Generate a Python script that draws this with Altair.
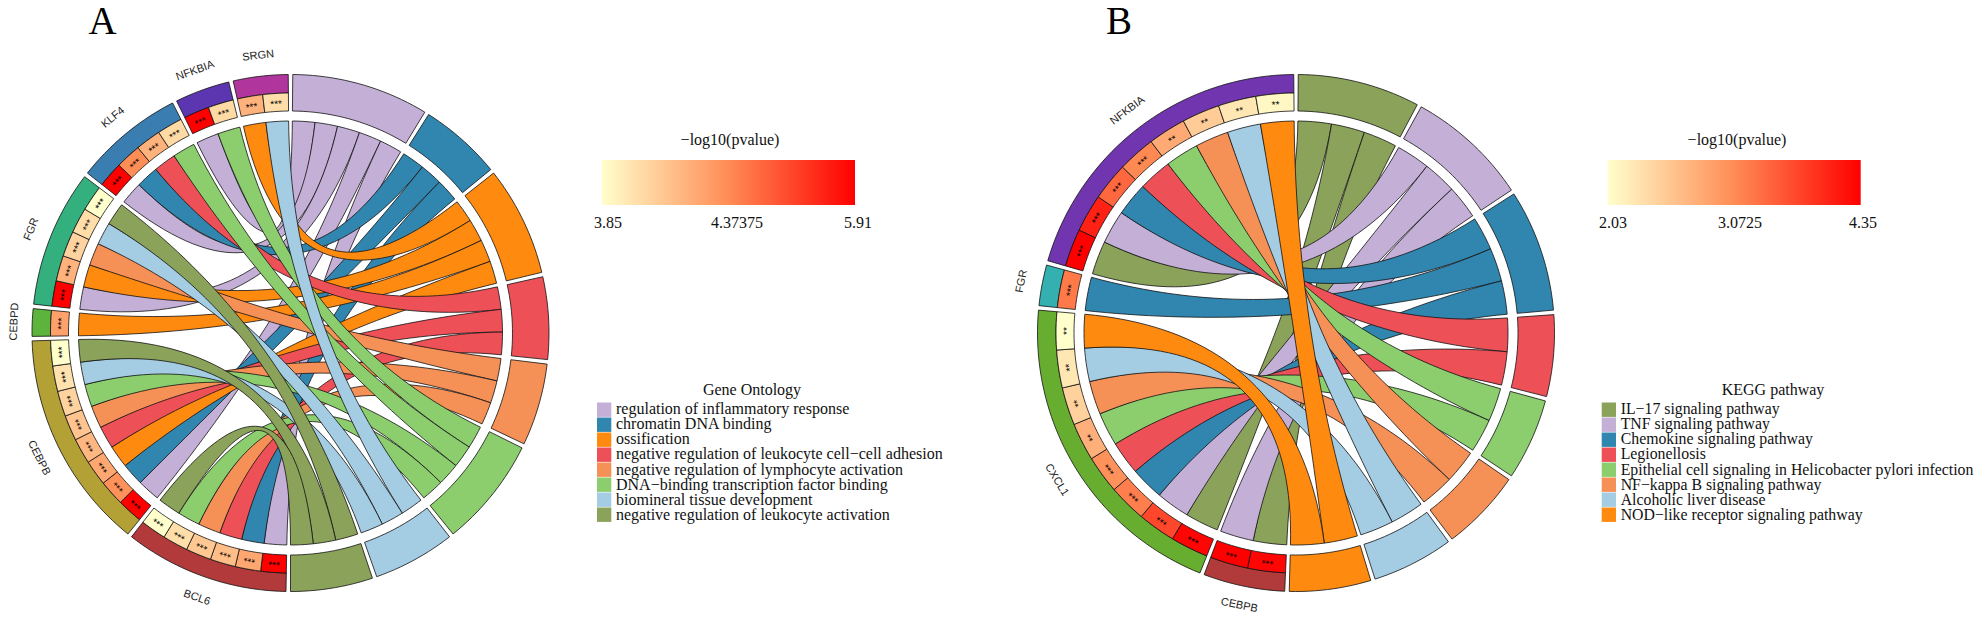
import math
import altair as alt
import pandas as pd

W, H = 1967, 606
R_OUT, R_GENE, R_HEAT, R_LINK = 258.5, 240.0, 222.0, 212.0
GAP = 1.0
HEAT_COLORS = ["#FFFFCC", "#FF8C55", "#FF0000"]

# ---------- panel A values ----------
terms_a = ["regulation of inflammatory response", "chromatin DNA binding", "ossification",
           "negative regulation of leukocyte cell\u2212cell adhesion",
           "negative regulation of lymphocyte activation",
           "DNA\u2212binding transcription factor binding",
           "biomineral tissue development", "negative regulation of leukocyte activation"]
term_colors_a = ["#C4AFD6", "#3186B0", "#FF8A10", "#EE5058", "#F59057", "#8CCE6E", "#A4CCE3", "#8BA25A"]
genes_a = ["BCL6", "CEBPB", "CEBPD", "FGR", "KLF4", "NFKBIA", "SRGN"]
gene_colors_a = ["#B23A3A", "#B3A135", "#5DB43C", "#34B07E", "#3A7DB0", "#5C36B0", "#B0359C"]
links_a = [[0, 1, 3, 4, 5, 7], [0, 1, 2, 3, 4, 5, 6, 7], [2], [0, 2, 4, 6, 7], [0, 1, 3, 5], [0, 5], [2, 6]]
pvals_a = [[5.91, 4.25, 4.15, 4.10, 4.00, 3.85],
           [5.91, 4.35, 4.25, 4.18, 4.12, 4.05, 3.98, 3.85],
           [4.28],
           [5.91, 4.20, 4.05, 4.00, 3.85],
           [5.91, 4.37, 4.20, 4.02],
           [5.91, 4.02],
           [4.20, 4.00]]
scale_a = [3.85, 4.37375, 5.91]

# ---------- panel B values ----------
terms_b = ["IL\u221217 signaling pathway", "TNF signaling pathway", "Chemokine signaling pathway",
           "Legionellosis", "Epithelial cell signaling in Helicobacter pylori infection",
           "NF\u2212kappa B signaling pathway", "Alcoholic liver disease",
           "NOD\u2212like receptor signaling pathway"]
term_colors_b = ["#8BA25A", "#C4AFD6", "#3186B0", "#EE5058", "#8CCE6E", "#F59057", "#A4CCE3", "#FF8A10"]
genes_b = ["CEBPB", "CXCL1", "FGR", "NFKBIA"]
gene_colors_b = ["#B13A3A", "#67AE30", "#35B0B0", "#7235B0"]
links_b = [[0, 1], [0, 1, 2, 3, 4, 5, 6, 7], [2], [0, 1, 2, 3, 4, 5, 6, 7]]
pvals_b = [[4.30, 4.35],
           [4.30, 3.70, 3.20, 3.02, 2.75, 2.45, 2.25, 2.03],
           [3.25],
           [4.35, 4.05, 3.40, 3.10, 2.80, 2.50, 2.25, 2.10]]
scale_b = [2.03, 3.0725, 4.35]

# ---------- layout ----------
CX_A, CX_B, CY = 290.5, 1296.0, 333.0
LABEL_MIN_X, LABEL_MAX_Y = 17.5, 608.5


def pt(cx, theta, r):
    a = math.radians(theta)
    return cx + r * math.sin(a), CY - r * math.cos(a)


def arc(cx, t0, t1, r):
    n = max(2, int(abs(t1 - t0) / 1.5) + 2)
    return [pt(cx, t0 + (t1 - t0) * k / (n - 1), r) for k in range(n)]


def bezier(cx, t0, t1, r):
    p, q = pt(cx, t0, r), pt(cx, t1, r)
    c = (cx, CY)
    out = []
    for k in range(1, 40):
        s = k / 40
        out.append(((1 - s) ** 2 * p[0] + 2 * s * (1 - s) * c[0] + s ** 2 * q[0],
                    (1 - s) ** 2 * p[1] + 2 * s * (1 - s) * c[1] + s ** 2 * q[1]))
    return out


def panel(tag, cx, terms, tcols, genes, gcols, links, pvals):
    counts = [sum(l.count(i) for l in links) for i in range(len(terms))]
    gene_n = [len(l) for l in links]
    n_sec = len(terms) + len(genes)
    unit = (360 - n_sec * GAP) / (sum(counts) + sum(gene_n))
    polys, heats, stars, labels = [], [], [], []
    pos = GAP / 2
    term_start = []
    for i, c in enumerate(counts):
        term_start.append(pos)
        t1 = pos + c * unit
        polys.append((tag + "T%d" % i, tcols[i], arc(cx, pos, t1, R_OUT) + arc(cx, t1, pos, R_HEAT)))
        pos = t1 + GAP
    gene_slots = []
    for g, n in enumerate(gene_n):
        t1 = pos + n * unit
        polys.append((tag + "G%d" % g, gcols[g], arc(cx, pos, t1, R_OUT) + arc(cx, t1, pos, R_GENE)))
        mid = (pos + t1) / 2
        up = math.cos(math.radians(mid)) >= 0
        x, y = pt(cx, mid, 276 if up else 284)
        labels.append({"x": max(x, LABEL_MIN_X), "y": min(y, LABEL_MAX_Y),
                       "a": (mid if up else mid + 180) % 360, "t": genes[g]})
        slots = []
        for k in range(n):
            s0, s1 = pos + k * unit, pos + (k + 1) * unit
            slots.append((s0, s1))
            heats.append({"id": "%sH%d_%d" % (tag, g, k), "v": pvals[g][k],
                          "pts": arc(cx, s0, s1, R_GENE) + arc(cx, s1, s0, R_HEAT)})
            x, y = pt(cx, (s0 + s1) / 2, 226)
            stars.append({"x": x, "y": y, "a": ((s0 + s1) / 2) % 360,
                          "t": "***" if pvals[g][k] >= 3 else "**"})
        gene_slots.append(slots)
        pos = t1 + GAP
    # term slots: first clockwise slot belongs to the last clockwise gene
    ribbons = []
    for i in range(len(terms)):
        owners = [g for g in range(len(genes)) if i in links[g]]
        for j, g in enumerate(reversed(owners)):
            a0 = term_start[i] + j * unit
            a1 = a0 + unit
            s0, s1 = gene_slots[g][links[g].index(i)]
            pts = (arc(cx, s0, s1, R_LINK) + bezier(cx, s1, a0, R_LINK)
                   + arc(cx, a0, a1, R_LINK) + bezier(cx, a1, s0, R_LINK))
            ribbons.append(("%sR%d_%d" % (tag, i, g), tcols[i], pts))
    return polys + ribbons, heats, stars, labels


def poly_rows(items):
    rows = []
    for pid, col, pts in items:
        pts = pts + [pts[0]]
        for i, (x, y) in enumerate(pts):
            rows.append({"id": pid, "fill": col, "i": i, "x": round(x, 2), "y": round(y, 2)})
    return pd.DataFrame(rows)


def heat_rows(items):
    rows = []
    for h in items:
        pts = h["pts"] + [h["pts"][0]]
        for i, (x, y) in enumerate(pts):
            rows.append({"id": h["id"], "v": h["v"], "i": i, "x": round(x, 2), "y": round(y, 2)})
    return pd.DataFrame(rows)


X = alt.X("x:Q", scale=alt.Scale(domain=[8, 8 + W], nice=False, zero=False), axis=None)
Y = alt.Y("y:Q", scale=alt.Scale(domain=[8 + H, 8], nice=False, zero=False), axis=None)


def polys_layer(items):
    return alt.Chart(poly_rows(items)).mark_line(stroke="#111111", strokeWidth=0.8).encode(
        x=X, y=Y, order="i:Q", detail="id:N", fill=alt.Fill("fill:N", scale=None))


def heat_layer(items, dom):
    return alt.Chart(heat_rows(items)).mark_line(stroke="#111111", strokeWidth=0.8).encode(
        x=X, y=Y, order="i:Q", detail="id:N",
        fill=alt.Fill("v:Q", legend=None,
                      scale=alt.Scale(domain=dom, range=HEAT_COLORS, interpolate="rgb")))


def text_layer(rows, font, size, color="#111111", align="center"):
    return alt.Chart(pd.DataFrame(rows)).mark_text(
        font=font, fontSize=size, color=color, align=align, baseline="alphabetic").encode(
        x=X, y=Y, text="t:N", angle=alt.Angle("a:Q", scale=None))


def colorbar(x0, x1, dom, label_x, title_x):
    grad = alt.Gradient(gradient="linear", x1=0, x2=1, y1=0, y2=0, stops=[
        alt.GradientStop(offset=0, color=HEAT_COLORS[0]),
        alt.GradientStop(offset=0.5, color=HEAT_COLORS[1]),
        alt.GradientStop(offset=1, color=HEAT_COLORS[2])])
    bar = alt.Chart(pd.DataFrame([{"x": x0, "x2": x1, "y": 160, "y2": 205}])).mark_rect(fill=grad).encode(
        x=X, x2="x2:Q", y=Y, y2="y2:Q")
    rows = [{"x": lx, "y": 227.5, "a": 0, "t": str(v)} for lx, v in zip(label_x, dom)]
    rows.append({"x": title_x, "y": 145, "a": 0, "t": "\u2212log10(pvalue)"})
    return [bar, text_layer(rows, "Liberation Serif", 16)]


def legend(title, title_x, names, cols, x0, size):
    swatch = pd.DataFrame([{"x": x0, "x2": x0 + 14.3, "y": 402.5 + i * 15.0, "y2": 402.5 + (i + 1) * 15.0 - 0.6,
                            "c": cols[i]} for i in range(len(names))])
    sw = alt.Chart(swatch).mark_rect().encode(x=X, x2="x2:Q", y=Y, y2="y2:Q", fill=alt.Fill("c:N", scale=None))
    rows = [{"x": x0 + 19, "y": 414.0 + i * 15.15, "a": 0, "t": n} for i, n in enumerate(names)]
    head = [{"x": title_x, "y": 395, "a": 0, "t": title}]
    return [sw, text_layer(rows, "Liberation Serif", size, align="left"),
            text_layer(head, "Liberation Serif", 16)]


pa, ha, sa, la = panel("A", CX_A, terms_a, term_colors_a, genes_a, gene_colors_a, links_a, pvals_a)
pb, hb, sb, lb = panel("B", CX_B, terms_b, term_colors_b, genes_b, gene_colors_b, links_b, pvals_b)

letters = [{"x": 102.5, "y": 34, "a": 0, "t": "A"}, {"x": 1119, "y": 34, "a": 0, "t": "B"}]

layers = [polys_layer(pa), polys_layer(pb), heat_layer(ha, scale_a), heat_layer(hb, scale_b),
          text_layer(sa + sb, "Liberation Sans", 10, color="#000000"),
          text_layer(la + lb, "Liberation Sans", 11, color="#222222"),
          text_layer(letters, "Liberation Serif", 39, color="#000000")]
layers += colorbar(601.7, 855, scale_a, [608, 737, 858], 730)
layers += colorbar(1607.7, 1860.7, scale_b, [1613, 1740, 1863], 1737)
layers += legend("Gene Ontology", 752, terms_a, term_colors_a, 597, 16)
layers += legend("KEGG pathway", 1773, terms_b, term_colors_b, 1601.7, 15.8)

chart = alt.layer(*layers).resolve_scale(fill="independent").properties(
    width=W, height=H, padding=0, autosize=alt.AutoSizeParams(type="none")
).configure_view(stroke=None)

chart.save("out.html", embed_options={"renderer": "svg", "actions": False})
